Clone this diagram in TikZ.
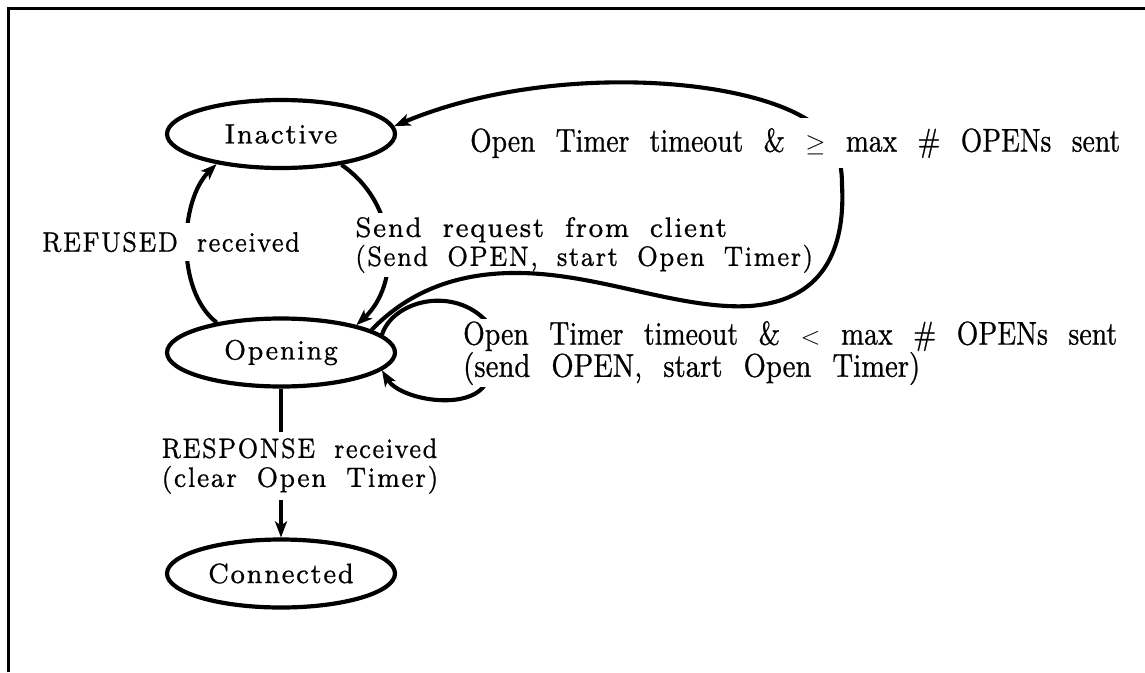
\documentclass[tikz,border=0pt]{standalone}
\usepackage{fontspec}
\usepackage{graphicx}
\usetikzlibrary{shapes.geometric,arrows.meta}
% wide small-size roman for states and left labels, condensed roman for right labels
\newfontfamily\lmwide{lmroman7-regular.otf}[LetterSpace=5,WordSpace=1.8,FakeBold=0.8]
\newfontfamily\lmtall{lmroman9-regular.otf}[FakeStretch=0.78,WordSpace=2.2,FakeBold=0.6]
\newcommand\fitw[2]{\resizebox{#1}{\height}{#2}}

\begin{document}
\begin{tikzpicture}[x=1pt,y=-1pt,
  state/.style={ellipse,draw,line width=4.2pt,minimum width=228pt,minimum height=68pt,
    inner sep=0pt,font=\lmwide\fontsize{28}{29}\selectfont},
  trans/.style={line width=4.1pt,-{Stealth[length=16pt,width=12pt,inset=4pt]}},
  lbl/.style={fill=white,inner sep=2pt,align=left,font=\lmwide\fontsize{28}{29}\selectfont},
  rlbl/.style={fill=white,inner sep=2pt,align=left,font=\lmtall\fontsize{33}{28}\selectfont},
]
\useasboundingbox (0,0) rectangle (1145,672);
% frame: top and left rules
\draw[line width=3pt] (8,672) -- (8,8) -- (1145,8);

% states
\node[state] (inactive)  at (281,134)   {\fitw{113pt}{Inactive}};
\node[state] (opening)   at (281,352.5) {\fitw{114pt}{Opening}};
\node[state] (connected) at (281,573.5) {\fitw{146pt}{Connected}};

% Opening -> Inactive on refusal
\draw[trans] (opening.155) .. controls (175,290) and (180,200) .. (inactive.205);
\node[lbl,minimum height=38pt] (refl) at (171,242) {\fitw{258pt}{REFUSED received}};

% Inactive -> Opening on client request
\draw[trans] (inactive.333) .. controls (400,205) and (400,285) .. (opening.20);
\node[lbl,anchor=west,minimum height=64pt] (sendl) at (353,245)
  {\fitw{372pt}{Send request from client}\\\fitw{458pt}{(Send OPEN, start Open Timer)}};

% Opening -> Inactive after too many OPENs
\draw[trans] (opening.14) .. controls (410,290) and (460,272) .. (520,273)
  .. controls (600,274) and (680,310) .. (750,306)
  .. controls (830,300) and (845,240) .. (842,185)
  .. controls (842,150) and (830,132) .. (803,117)
  .. controls (730,75) and (540,65) .. (inactive.4);
\node[rlbl,anchor=west,minimum height=50pt] (maxl) at (468,143)
  {\fitw{650pt}{Open Timer timeout \& $\geq$ max \# OPENs sent}};

% Opening self-loop: resend OPEN
\draw[trans] (opening.10) .. controls (393,300) and (455,285) .. (488,323)
  .. controls (508,345) and (508,362) .. (486,383)
  .. controls (470,412) and (400,400) .. (opening.-10);
\node[rlbl,anchor=west,minimum height=60pt] (lessl) at (461,353)
  {\fitw{654pt}{Open Timer timeout \& $<$ max \# OPENs sent}\\\fitw{457pt}{(send OPEN, start Open Timer)}};

% Opening -> Connected
\draw[trans,line width=4.6pt] (opening) -- (connected);
\node[lbl,minimum height=68pt] (respl) at (300,466)
  {\fitw{276pt}{RESPONSE received}\\\fitw{277pt}{(clear Open Timer)}};
\end{tikzpicture}
\end{document}
